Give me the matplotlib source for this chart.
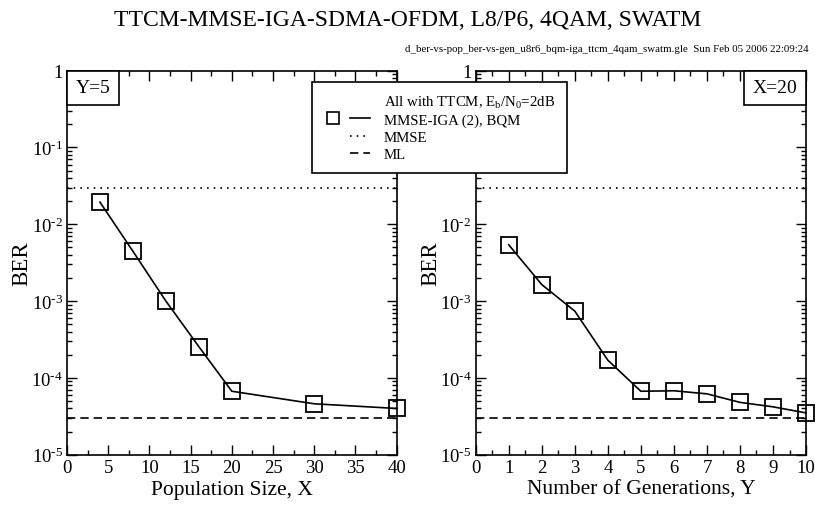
import math
import matplotlib
matplotlib.use('Agg')
import matplotlib.pyplot as plt
from matplotlib.lines import Line2D
from matplotlib.legend_handler import HandlerTuple
from matplotlib.offsetbox import AnchoredText
from matplotlib.ticker import FuncFormatter, LogLocator, MultipleLocator

# Data
pop_size = [4, 8, 12, 16, 20, 30, 40]
ber_pop = [1.94e-2, 4.45e-3, 1.0e-3, 2.55e-4, 6.7e-5, 4.6e-5, 4.0e-5]
generations = [1, 2, 3, 4, 5, 6, 7, 8, 9, 10]
ber_gen = [5.4e-3, 1.64e-3, 7.4e-4, 1.7e-4, 6.7e-5, 6.8e-5, 6.2e-5, 4.8e-5, 4.2e-5, 3.5e-5]
ber_mmse = 3.0e-2
ber_ml = 3.05e-5

title = 'TTCM-MMSE-IGA-SDMA-OFDM, L8/P6, 4QAM, SWATM'
stamp = 'd_ber-vs-pop_ber-vs-gen_u8r6_bqm-iga_ttcm_4qam_swatm.gle  Sun Feb 05 2006 22:09:24'

plt.rcParams['font.family'] = 'Liberation Serif'
plt.rcParams['mathtext.fontset'] = 'custom'
plt.rcParams['mathtext.rm'] = 'Liberation Serif'
plt.rcParams['mathtext.it'] = 'Liberation Serif:italic'


def ylab(v, pos):
    if abs(v - 1) < 1e-9:
        return '1'
    e = round(math.log10(v))
    return r'$\mathregular{10^{\text{-}%d}}$' % abs(e)


def style_axis(ax, xmax, xmajor, xminor, xlabel, boxtext, boxloc):
    ax.set_yscale('log')
    ax.set_ylim(1e-5, 1)
    ax.set_xlim(0, xmax)
    ax.xaxis.set_major_locator(MultipleLocator(xmajor))
    ax.xaxis.set_minor_locator(MultipleLocator(xminor))
    ax.yaxis.set_major_locator(LogLocator(base=10, numticks=10))
    ax.yaxis.set_minor_locator(LogLocator(base=10, subs=range(2, 10), numticks=10))
    ax.yaxis.set_major_formatter(FuncFormatter(ylab))
    ax.tick_params(which='both', direction='in', top=True, right=True, labelsize=13.5, width=1)
    ax.tick_params(which='major', length=7, pad=3)
    ax.tick_params(which='minor', length=3.5)
    ax.set_xlabel(xlabel, fontsize=15.5, labelpad=3)
    ax.set_ylabel('BER', fontsize=16.5)
    ax.yaxis.set_label_coords(-0.104, 0.5)
    for s in ax.spines.values():
        s.set_linewidth(1.2)
    at = AnchoredText(boxtext, loc=boxloc, prop=dict(size=14), frameon=True,
                      pad=0.45, borderpad=0)
    at.patch.set_boxstyle('square,pad=0')
    at.patch.set_linewidth(1.2)
    ax.add_artist(at)


fig = plt.figure(figsize=(8.15, 5.06), dpi=100)
ax1 = fig.add_axes([0.0822, 0.0994, 0.4045, 0.759])
ax2 = fig.add_axes([0.5837, 0.0994, 0.4053, 0.759])

for ax, xs, ys in [(ax1, pop_size, ber_pop), (ax2, generations, ber_gen)]:
    ax.plot(xs, ys, color='black', lw=1.2, marker='s', ms=11.5, mfc='none',
            mec='black', mew=1.3, clip_on=False, zorder=3)
    ax.axhline(ber_mmse, color='black', lw=1.2, ls=(0, (1, 3)))
    ax.axhline(ber_ml, color='black', lw=1.2, ls=(0, (5, 3)))

style_axis(ax1, 40, 5, 2.5, 'Population Size, X', 'Y=5', 'upper left')
style_axis(ax2, 10, 1, 0.5, 'Number of Generations, Y', 'X=20', 'upper right')

fig.text(0.5, 0.96, title, ha='center', va='center', fontsize=17)
fig.text(0.992, 0.903, stamp, ha='right', va='center', fontsize=7.8)

# legend
blank = Line2D([], [], color='none')
mk = Line2D([], [], color='black', marker='s', ls='none', ms=9, mfc='none', mew=1.2)
solid = Line2D([], [], color='black', lw=1.2)
dotted = Line2D([], [], color='black', lw=1.2, ls=(0, (1, 3)))
dashed = Line2D([], [], color='black', lw=1.2, ls=(0, (5, 3)))
handles = [blank, (mk, solid), (blank, dotted), (blank, dashed)]
labels = [r'All with TTCM, $\mathregular{E_b/N_0}$=2dB', 'MMSE-IGA (2), BQM', 'MMSE', 'ML']
leg = fig.legend(handles, labels, loc='upper left', bbox_to_anchor=(0.3825, 0.8366),
                 handler_map={tuple: HandlerTuple(ndivide=None, pad=0.5)},
                 handlelength=3.1, handletextpad=0.95, fontsize=10.7, frameon=True,
                 fancybox=False, edgecolor='black', framealpha=1, borderpad=0.8,
                 labelspacing=0.24, borderaxespad=0)
leg.get_frame().set_linewidth(1.2)

fig.savefig('out.png', dpi=100)
